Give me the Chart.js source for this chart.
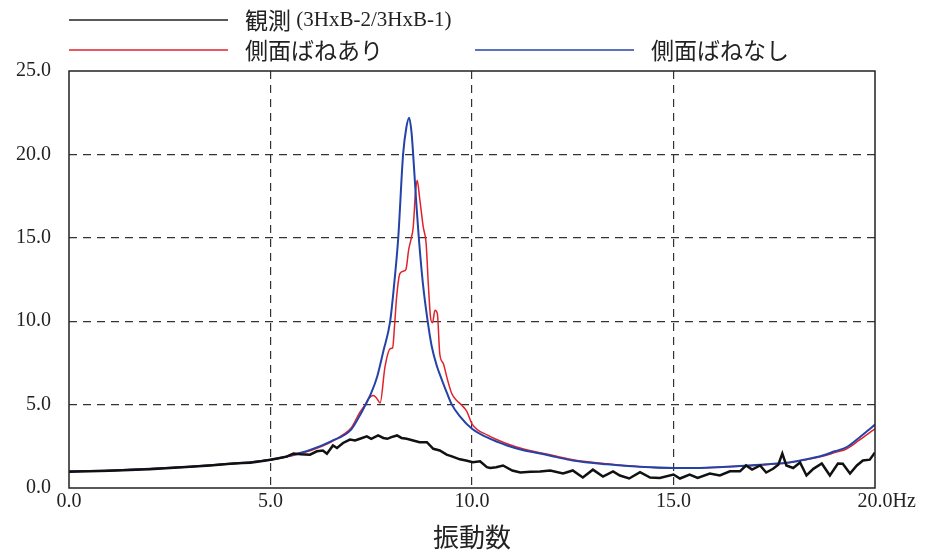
<!DOCTYPE html>
<html>
<head>
<meta charset="utf-8">
<script src="https://cdn.jsdelivr.net/npm/chart.js@4"></script>
<style>
  body { margin: 0; background: #fff; }
  canvas { display: block; }
</style>
</head>
<body>
<canvas id="chart" width="931" height="554"></canvas>
<script>
// observed (3HxB-2/3HxB-1)
const obsFreq = [0, 0.5, 1, 1.5, 2, 2.5, 3, 3.5, 4, 4.3, 4.5, 4.8, 5, 5.2, 5.4, 5.57, 5.75, 5.98, 6.15, 6.3, 6.4, 6.55, 6.65, 6.8, 6.97, 7.1, 7.22, 7.39, 7.5, 7.67, 7.8, 7.9, 8.0, 8.14, 8.25, 8.38, 8.54, 8.7, 8.88, 9.04, 9.2, 9.37, 9.5, 9.7, 9.85, 10.02, 10.2, 10.37, 10.45, 10.6, 10.77, 11.0, 11.2, 11.45, 11.69, 11.94, 12.26, 12.5, 12.75, 13.0, 13.25, 13.5, 13.67, 13.9, 14.17, 14.42, 14.66, 15.0, 15.16, 15.4, 15.6, 15.9, 16.15, 16.4, 16.65, 16.8, 16.95, 17.15, 17.3, 17.47, 17.6, 17.7, 17.8, 17.97, 18.14, 18.3, 18.47, 18.68, 18.88, 19.08, 19.2, 19.38, 19.55, 19.7, 19.87, 20];
const obsVals = [0.98, 1.0, 1.03, 1.08, 1.13, 1.2, 1.27, 1.35, 1.45, 1.5, 1.52, 1.62, 1.7, 1.78, 1.88, 2.07, 2.02, 2.0, 2.2, 2.25, 2.05, 2.55, 2.4, 2.7, 2.9, 2.85, 2.95, 3.1, 2.95, 3.15, 3.0, 2.95, 3.05, 3.15, 3.0, 2.95, 2.85, 2.75, 2.75, 2.35, 2.25, 2.0, 1.9, 1.72, 1.65, 1.55, 1.6, 1.25, 1.2, 1.25, 1.35, 1.05, 0.93, 0.97, 0.99, 1.05, 0.87, 1.05, 0.63, 1.1, 0.69, 1.0, 0.75, 0.57, 0.95, 0.63, 0.6, 0.81, 0.57, 0.81, 0.6, 0.87, 0.75, 1.0, 1.0, 1.35, 1.1, 1.35, 0.93, 1.15, 1.4, 2.07, 1.35, 1.2, 1.53, 0.75, 1.15, 1.47, 0.75, 1.47, 1.45, 0.87, 1.35, 1.65, 1.7, 2.13];

// with side springs
const withFreq = [0, 1, 2, 3, 4, 5, 5.5, 6, 6.5, 6.8, 7.0, 7.22, 7.35, 7.43, 7.55, 7.63, 7.72, 7.84, 7.97, 8.03, 8.08, 8.13, 8.21, 8.3, 8.36, 8.43, 8.5, 8.54, 8.6, 8.64, 8.7, 8.79, 8.86, 8.92, 8.97, 9.02, 9.08, 9.14, 9.2, 9.29, 9.38, 9.5, 9.62, 9.75, 9.87, 10, 10.4, 10.87, 11.3, 11.69, 12.1, 12.5, 13.35, 14.17, 15, 15.8, 16.65, 17.3, 17.9, 18.3, 18.7, 19.0, 19.3, 19.6, 19.8, 20];
const withVals = [1.0, 1.05, 1.15, 1.28, 1.45, 1.7, 1.92, 2.25, 2.75, 3.2, 3.6, 4.55, 5.0, 5.35, 5.55, 5.4, 5.1, 7.25, 8.35, 8.4, 9.8, 11.45, 12.85, 13.0, 13.1, 14.3, 15.05, 15.6, 17.8, 18.45, 17.4, 15.65, 14.7, 12.05, 10.25, 9.9, 10.65, 10.45, 8.05, 7.45, 6.6, 5.65, 5.25, 4.95, 4.6, 3.85, 3.15, 2.65, 2.32, 2.12, 1.9, 1.7, 1.45, 1.28, 1.2, 1.22, 1.3, 1.4, 1.53, 1.7, 1.9, 2.12, 2.35, 2.85, 3.2, 3.55];

// without side springs
const withoutFreq = [0, 1, 2, 3, 4, 5, 5.5, 6, 6.5, 7, 7.25, 7.5, 7.65, 7.8, 7.97, 8.08, 8.17, 8.29, 8.37, 8.44, 8.5, 8.54, 8.62, 8.68, 8.78, 8.9, 9.0, 9.13, 9.25, 9.37, 9.5, 9.7, 10, 10.4, 10.87, 11.3, 11.69, 12.1, 12.5, 13.35, 14.17, 15, 15.8, 16.65, 17.3, 17.9, 18.3, 18.7, 19.0, 19.3, 19.6, 19.8, 20];
const withoutVals = [1.0, 1.05, 1.15, 1.28, 1.45, 1.7, 1.95, 2.3, 2.8, 3.5, 4.5, 5.7, 6.7, 8.2, 10.0, 12.5, 15.0, 20.0, 21.6, 22.2, 21.3, 20.0, 17.0, 15.0, 12.3, 10.0, 8.5, 7.3, 6.5, 5.75, 5.0, 4.3, 3.55, 3.0, 2.55, 2.25, 2.07, 1.85, 1.65, 1.42, 1.27, 1.2, 1.22, 1.32, 1.42, 1.55, 1.72, 1.95, 2.2, 2.45, 3.0, 3.4, 3.8];

const legendItems = [
  { label: "観測", extra: " (3HxB-2/3HxB-1)", color: "#222", x: 69, y: 20 },
  { label: "側面ばねあり", extra: "", color: "#e0232b", x: 69, y: 50 },
  { label: "側面ばねなし", extra: "", color: "#2443a8", x: 475, y: 50 }
];

const toPoints = (xs, ys) => xs.map((x, i) => ({ x: x, y: ys[i] }));
const serif = "'Liberation Serif', 'Times New Roman', serif";
const sans = "'Noto Sans CJK JP', 'Noto Sans', sans-serif";

const hideEdges = (max) => (ctx) =>
  (ctx.tick && (ctx.tick.value === 0 || ctx.tick.value === max)) ? "rgba(0,0,0,0)" : "#333";

const frame = {
  id: "frame",
  afterDatasetsDraw(chart) {
    const { ctx, chartArea: a } = chart;
    ctx.save();
    ctx.strokeStyle = "#222";
    ctx.lineWidth = 1.5;
    ctx.strokeRect(a.left, a.top, a.right - a.left, a.bottom - a.top);
    ctx.restore();
  },
  afterDraw(chart) {
    const { ctx } = chart;
    const xs = chart.scales.x;
    ctx.save();
    // unit after the last x tick
    ctx.font = "20px " + serif;
    ctx.fillStyle = "#222";
    ctx.textBaseline = "middle";
    ctx.textAlign = "left";
    const px = xs.getPixelForValue(20) + ctx.measureText("20.0").width / 2;
    ctx.fillText("Hz", px, chart.chartArea.bottom + 2 + 12);

    // legend
    legendItems.forEach((it) => {
      ctx.strokeStyle = it.color;
      ctx.lineWidth = 1.3;
      ctx.beginPath();
      ctx.moveTo(it.x, it.y);
      ctx.lineTo(it.x + 159, it.y);
      ctx.stroke();
      ctx.fillStyle = "#222";
      ctx.font = "23px " + sans;
      ctx.fillText(it.label, it.x + 176, it.y);
      if (it.extra) {
        const w = ctx.measureText(it.label).width;
        ctx.font = "21px " + serif;
        ctx.fillText(it.extra, it.x + 176 + w, it.y);
      }
    });
    ctx.restore();
  }
};

new Chart(document.getElementById("chart"), {
  type: "line",
  data: {
    datasets: [
      {
        label: "観測 (3HxB-2/3HxB-1)",
        data: toPoints(obsFreq, obsVals),
        borderColor: "#111",
        borderWidth: 2.5,
        tension: 0,
        order: 0
      },
      {
        label: "側面ばねなし",
        data: toPoints(withoutFreq, withoutVals),
        borderColor: "#2443a8",
        borderWidth: 2,
        cubicInterpolationMode: "monotone",
        order: 1
      },
      {
        label: "側面ばねあり",
        data: toPoints(withFreq, withVals),
        borderColor: "#e0232b",
        borderWidth: 1.5,
        cubicInterpolationMode: "monotone",
        order: 2
      }
    ]
  },
  options: {
    responsive: false,
    animation: false,
    elements: { point: { radius: 0 } },
    layout: { padding: { top: 71, right: 56, left: 0, bottom: 0 } },
    plugins: { legend: { display: false }, tooltip: { enabled: false } },
    scales: {
      x: {
        type: "linear",
        min: 0,
        max: 20,
        afterFit: (s) => { s.height = 66; },
        ticks: {
          stepSize: 5,
          padding: 2,
          color: "#222",
          font: { family: serif, size: 20 },
          maxRotation: 0,
          callback: (v) => v.toFixed(1)
        },
        grid: { color: hideEdges(20), lineWidth: 1.2, drawTicks: false },
        border: { display: false, dash: [8, 6] },
        title: {
          display: true,
          text: "振動数",
          color: "#222",
          font: { family: sans, size: 26 },
          padding: { top: 0, bottom: 1 }
        }
      },
      y: {
        min: 0,
        max: 25,
        afterFit: (s) => { s.width = 69; },
        ticks: {
          stepSize: 5,
          padding: 18,
          color: "#222",
          font: { family: serif, size: 20 },
          callback: (v) => v.toFixed(1)
        },
        grid: { color: hideEdges(25), lineWidth: 1.2, drawTicks: false },
        border: { display: false, dash: [8, 6] }
      }
    }
  },
  plugins: [frame]
});
</script>
</body>
</html>
